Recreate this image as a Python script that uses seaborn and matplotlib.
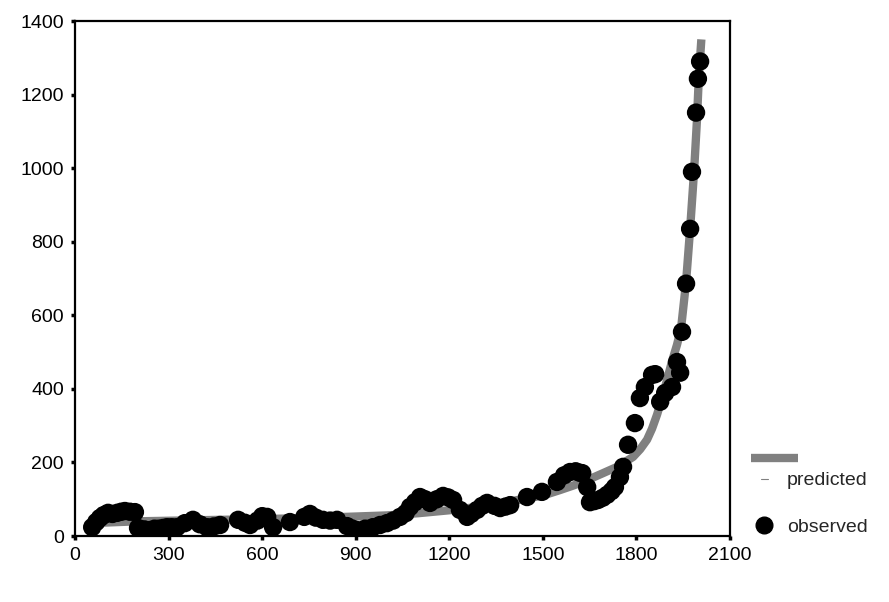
import matplotlib
matplotlib.use("Agg")
import matplotlib.pyplot as plt
from matplotlib.lines import Line2D
import pandas as pd
import seaborn as sns

# 观测值（黑点）
obs_year = [55, 68, 80, 92, 106, 120, 135, 148, 160, 176, 192, 202, 222, 240,
            255, 270, 283, 295, 310, 327, 352, 378, 400, 423, 445, 465,
            523, 545, 561, 585, 600, 616, 635, 689, 735, 753, 772, 795, 818,
            840, 872, 890, 904, 930, 955, 978, 1000, 1020,
            1042, 1060, 1074, 1090, 1106, 1122, 1138, 1160, 1180, 1196, 1212,
            1234, 1257, 1270, 1289, 1305, 1321, 1345, 1363, 1380,
            1395, 1449, 1497, 1545, 1568, 1587, 1605, 1618, 1626, 1642, 1651,
            1665, 1677, 1692, 1706, 1720, 1731, 1747, 1757, 1773, 1795, 1811,
            1827, 1850, 1860, 1876, 1892, 1914, 1930, 1940, 1946, 1959, 1972,
            1978, 1991, 1997, 2004]
obs_value = [24, 38, 49, 57, 63, 60, 63, 66, 68, 66, 65, 22, 18, 16,
             20, 20, 22, 24, 24, 24, 35, 44, 32, 24, 26, 30,
             44, 36, 30, 42, 54, 52, 24, 38, 52, 60, 50, 44, 42,
             44, 27, 20, 16, 20, 24, 30, 35, 42,
             52, 62, 79, 92, 106, 100, 90, 100, 109, 105, 98,
             71, 52, 60, 71, 82, 90, 82, 76, 80,
             84, 106, 120, 147, 165, 174, 176, 172, 171, 133, 92,
             95, 98, 104, 112, 122, 133, 160, 188, 248, 307, 375,
             405, 438, 440, 365, 389, 405, 473, 444, 555, 686, 835,
             990, 1151, 1243, 1290]

# 预测值（灰线）
pred_year = [50, 200, 400, 600, 800, 1000, 1100, 1200, 1300, 1400, 1500, 1555,
             1600, 1642, 1693, 1738, 1789, 1812, 1834, 1850, 1866, 1882, 1898,
             1914, 1930, 1943, 1959, 1972, 1985, 1994, 2000, 2008]
pred_value = [35, 40, 43, 46, 50, 56, 62, 70, 80, 95, 110, 125,
              138, 152, 171, 188, 215, 236, 262, 292, 330, 375, 424,
              475, 520, 565, 690, 835, 996, 1132, 1250, 1350]

obs = pd.DataFrame({"year": obs_year, "value": obs_value})
pred = pd.DataFrame({"year": pred_year, "value": pred_value})

sns.set_style("ticks")
plt.rcParams['font.family'] = ['Liberation Sans', 'DejaVu Sans']

fig = plt.figure(figsize=(8.89, 6.02), dpi=100)
ax = fig.add_axes([0.0844, 0.1096, 0.7368, 0.8555])

sns.lineplot(data=pred, x="year", y="value", color="#808080", linewidth=6,
             solid_capstyle="butt", ax=ax, legend=False)
sns.scatterplot(data=obs, x="year", y="value", color="black", s=175,
                edgecolor="none", ax=ax, legend=False, zorder=3)

ax.set_xlim(0, 2100)
ax.set_ylim(0, 1400)
ax.set_xticks(range(0, 2101, 300))
ax.set_yticks(range(0, 1401, 200))
ax.set_xlabel("")
ax.set_ylabel("")
for sp in ax.spines.values():
    sp.set_visible(True)
    sp.set_linewidth(1.6)
    sp.set_color("black")
ax.tick_params(direction="out", length=3, width=2.5, labelsize=14, pad=5,
               colors="black")

# 图例
leg1 = ax.legend(handles=[Line2D([], [], color="#808080", lw=6, solid_capstyle="butt")],
                 labels=[""], loc="upper left", bbox_to_anchor=(1.02, 0.18),
                 frameon=False, handlelength=2.4, borderaxespad=0, fontsize=14)
ax.add_artist(leg1)
ax.legend(handles=[Line2D([], [], color="#808080", lw=0.8),
                   Line2D([], [], color="black", marker="o", ls="none", markersize=12)],
          labels=["predicted", "observed"], loc="upper left",
          bbox_to_anchor=(1.035, 0.14), frameon=False, handlelength=0.35,
          handletextpad=1.0, labelspacing=1.5, borderaxespad=0, fontsize=14)

fig.savefig("out.png", dpi=100)
